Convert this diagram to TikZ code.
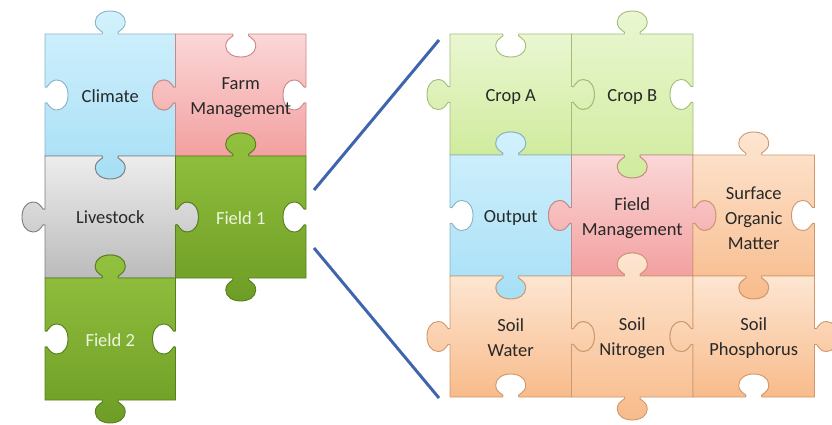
\documentclass[tikz,border=0pt]{standalone}
\usepackage{fontspec}
\setmainfont{Carlito}
\definecolor{bluT}{HTML}{D3F1FD}\definecolor{bluB}{HTML}{A6DFF5}\definecolor{bluL}{HTML}{86B4C6}
\definecolor{pnkT}{HTML}{FBD7D7}\definecolor{pnkB}{HTML}{F3A0A0}\definecolor{pnkL}{HTML}{C88888}
\definecolor{gryT}{HTML}{EDEDED}\definecolor{gryB}{HTML}{BBBBBB}\definecolor{gryL}{HTML}{7E7E7E}
\definecolor{grnT}{HTML}{93C13F}\definecolor{grnB}{HTML}{6E9D26}\definecolor{grnL}{HTML}{56801C}
\definecolor{limT}{HTML}{EAF7D2}\definecolor{limB}{HTML}{D0EB9D}\definecolor{limL}{HTML}{A3BC7A}
\definecolor{orgT}{HTML}{FDE6D2}\definecolor{orgB}{HTML}{F8BB8B}\definecolor{orgL}{HTML}{CF986C}
\definecolor{txt}{HTML}{282828}\definecolor{txtw}{HTML}{EEF5E0}
\definecolor{lnk}{HTML}{3E65AD}
% point macros: u along edge, v outward
\newcommand\ptT[2]{({\X+(#1)},{\Y-(#2)})}
\newcommand\ptR[2]{({\X+\W+(#2)},{\Y+(#1)})}
\newcommand\ptB[2]{({\X+\W-(#1)},{\Y+\H+(#2)})}
\newcommand\ptL[2]{({\X-(#2)},{\Y+\H-(#1)})}
\def\knob#1#2#3{-- #1{#3-8}{0} .. controls #1{#3-5}{#2*3} and #1{#3-15}{#2*3} .. #1{#3-15}{#2*12} .. controls #1{#3-15}{#2*19} and #1{#3-8}{#2*23} .. #1{#3}{#2*23} .. controls #1{#3+8}{#2*23} and #1{#3+15}{#2*19} .. #1{#3+15}{#2*12} .. controls #1{#3+15}{#2*3} and #1{#3+5}{#2*3} .. #1{#3+8}{0}}
\newcommand\setedge[4]{\ifcase#3\def#1{}\or\def#1{\knob#2{1}{#4}}\or\def#1{\knob#2{-1}{#4}}\fi}
% #1 x, #2 y, #3 top, #4 right, #5 bottom, #6 left (0 flat, 1 tab, 2 hole), #7 style
\newcommand\piece[7]{%
  \def\X{#1}\def\Y{#2}%
  \setedge\eT\ptT{#3}{\HW}\setedge\eR\ptR{#4}{\HH}%
  \setedge\eB\ptB{#5}{\HW}\setedge\eL\ptL{#6}{\HH}%
  \path[#7] (\X,\Y) \eT -- ({\X+\W},\Y) \eR -- ({\X+\W},{\Y+\H}) \eB -- (\X,{\Y+\H}) \eL -- cycle;
}
\tikzset{
  pcBlue/.style={top color=bluT, bottom color=bluB, draw=bluL, line width=0.9},
  pcPink/.style={top color=pnkT, bottom color=pnkB, draw=pnkL, line width=0.9},
  pcGray/.style={top color=gryT, bottom color=gryB, draw=gryL, line width=0.9},
  pcGreen/.style={top color=grnT, bottom color=grnB, draw=grnL, line width=0.9},
  pcLime/.style={top color=limT, bottom color=limB, draw=limL, line width=0.9},
  pcOrange/.style={top color=orgT, bottom color=orgB, draw=orgL, line width=0.9},
  lbl/.style={font=\fontsize{18.5}{25}\selectfont, text=txt, align=center, inner sep=0pt},
  lblw/.style={lbl, text=txtw},
  zoomline/.style={draw=lnk, line width=3}
}
\begin{document}
\begin{tikzpicture}[x=1pt,y=-1pt]
\useasboundingbox (0,0) rectangle (832,424);
% ---------- left cluster ----------
\def\W{130.5}\def\H{122}\def\HW{65.25}\def\HH{61}
\piece{45}{34}{1}{2}{1}{2}{pcBlue}
\piece{175.5}{34}{2}{2}{2}{1}{pcPink}
\piece{45}{156}{2}{1}{2}{1}{pcGray}
\piece{175.5}{156}{1}{2}{1}{2}{pcGreen}
\piece{45}{278}{1}{2}{1}{2}{pcGreen}
\node[lbl]  (climate)   at (110.25,96)  {Climate};
\node[lbl]  (farm)      at (240.75,98)  {Farm\\Management};
\node[lbl]  (livestock) at (110.25,217) {Livestock};
\node[lblw] (field1)    at (240.75,218) {Field 1};
\node[lblw] (field2)    at (110.25,340) {Field 2};
% ---------- right cluster ----------
\def\W{121.5}\def\H{121}\def\HW{60.75}\def\HH{60.5}
\piece{450}{34}{2}{1}{2}{1}{pcLime}
\piece{571.5}{34}{1}{2}{1}{2}{pcLime}
\piece{450}{155}{1}{2}{1}{2}{pcBlue}
\piece{571.5}{155}{2}{1}{2}{1}{pcPink}
\piece{693}{155}{1}{2}{1}{2}{pcOrange}
\piece{450}{276}{2}{1}{2}{1}{pcOrange}
\piece{571.5}{276}{1}{2}{1}{2}{pcOrange}
\piece{693}{276}{2}{1}{2}{1}{pcOrange}
\node[lbl] (cropa)  at (510.75,97)  {Crop A};
\node[lbl] (cropb)  at (632.25,97)  {Crop B};
\node[lbl] (output) at (510.75,218) {Output};
\node[lbl] (fieldm) at (632.25,218) {Field\\Management};
\node[lbl] (som)    at (753.75,218) {Surface\\Organic\\Matter};
\node[lbl] (swater) at (510.75,338) {Soil\\Water};
\node[lbl] (snitro) at (632.25,338) {Soil\\Nitrogen};
\node[lbl] (sphos)  at (753.75,338) {Soil\\Phosphorus};
% ---------- zoom lines ----------
\coordinate (za) at (314,190);
\coordinate (zb) at (439,40);
\coordinate (zc) at (314,248);
\coordinate (zd) at (439,398);
\draw[zoomline] (za) -- (zb);
\draw[zoomline] (zc) -- (zd);
\end{tikzpicture}
\end{document}
